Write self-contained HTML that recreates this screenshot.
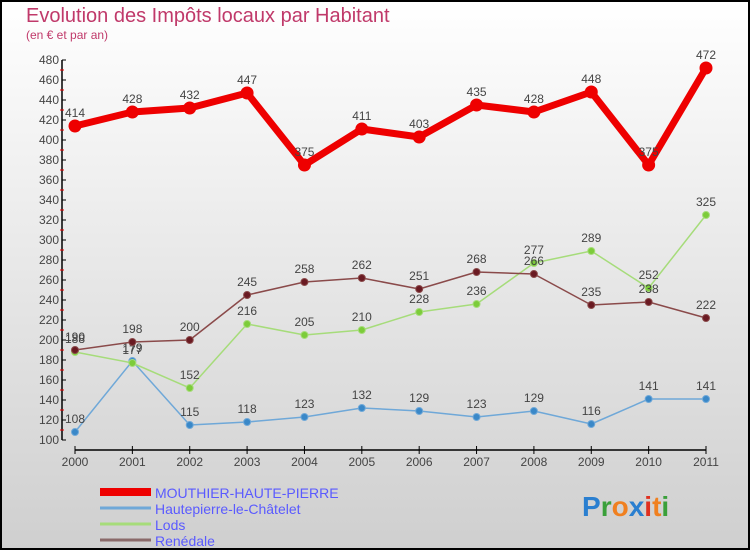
<!DOCTYPE html>
<html><head><meta charset="utf-8"><style>
body{margin:0}
#c{width:750px;height:550px;position:relative;font-family:"Liberation Sans",sans-serif;}
svg text{font-family:"Liberation Sans",sans-serif;}
</style></head><body>
<div id="c">
<svg id="s" width="750" height="550" xmlns="http://www.w3.org/2000/svg">
<defs><linearGradient id="bg" x1="0" y1="0" x2="0" y2="1"><stop offset="0" stop-color="#ffffff"/><stop offset="1" stop-color="#cfcfcf"/></linearGradient></defs>
<rect x="1" y="1" width="748" height="548" fill="url(#bg)" stroke="#000" stroke-width="2"/>
<text x="26" y="22" font-size="20" fill="#c0396a">Evolution des Impôts locaux par Habitant</text>
<text x="26" y="39" font-size="12" fill="#c0396a">(en € et par an)</text>
<g id="axes"></g><g id="series"></g><g id="legend"></g>
<text x="582" y="516" font-size="28" font-weight="bold"><tspan fill="#2a7fd0">P</tspan><tspan fill="#3aa03a">r</tspan><tspan fill="#f08020">o</tspan><tspan fill="#2a7fd0">x</tspan><tspan fill="#e03020">i</tspan><tspan fill="#f08020">t</tspan><tspan fill="#3aa03a">i</tspan></text>
</svg></div>
<script>
const years=[2000,2001,2002,2003,2004,2005,2006,2007,2008,2009,2010,2011];
const yTicks=[100,120,140,160,180,200,220,240,260,280,300,320,340,360,380,400,420,440,460,480];
const mouthier=[414,428,432,447,375,411,403,435,428,448,375,472];
const hautepierre=[108,179,115,118,123,132,129,123,129,116,141,141];
const lods=[188,177,152,216,205,210,228,236,277,289,252,325];
const renedale=[190,198,200,245,258,262,251,268,266,235,238,222];
const NS="http://www.w3.org/2000/svg";
function X(i){return 75+i*(706-75)/11;}
function Y(v){return 440-(v-100)*380/380;}
function mk(t,a,p){const e=document.createElementNS(NS,t);for(const k in a)e.setAttribute(k,a[k]);p.appendChild(e);return e;}
const ax=document.getElementById('axes');
let l=mk('line',{x1:62,y1:60,x2:62,y2:440,stroke:'#000','stroke-width':1.5},ax);


l=mk('line',{x1:75,y1:450,x2:706,y2:450,stroke:'#000','stroke-width':1.5},ax);


yTicks.forEach(v=>{
 mk('line',{x1:62,y1:Y(v),x2:66,y2:Y(v),stroke:'#000'},ax);
 if(v<480)mk('line',{x1:60,y1:Y(v+10),x2:64,y2:Y(v+10),stroke:'#e00'},ax);
 const t=mk('text',{x:59,y:Y(v)+4,'font-size':12,'text-anchor':'end',fill:'#444'},ax);t.textContent=v;
 
 
});
years.forEach((y,i)=>{
 mk('line',{x1:X(i),y1:446,x2:X(i),y2:454,stroke:'#000'},ax);
 const t=mk('text',{x:X(i),y:466,'font-size':12,'text-anchor':'middle',fill:'#444'},ax);t.textContent=y;
 
 
});
const sg=document.getElementById('series');
function series(vals,color,dot,w,r,name){
 const g=mk('g',{},sg);
 
 
 mk('polyline',{points:vals.map((v,i)=>X(i)+','+Y(v)).join(' '),fill:'none',stroke:color,'stroke-width':w,'stroke-linejoin':'round'},g);
 vals.forEach((v,i)=>{
  const c=mk('circle',{cx:X(i),cy:Y(v),r:r,fill:dot,stroke:color,'stroke-width':1},g);
  
  
  const t=mk('text',{x:X(i),y:Y(v)-9,'font-size':12,'text-anchor':'middle',fill:'#444'},g);t.textContent=v;
  
  
 });
}
series(hautepierre,'#6fa8d8','#3a88c8',1.5,3.5,'hautepierre-series');
series(lods,'#a6dc7a','#7ccc3a',1.5,3.5,'lods-series');
series(renedale,'#8a4a4a','#6a1a22',1.5,3.5,'renedale-series');
series(mouthier,'#ee0000','#ee0000',7,6,'mouthier-series');
const lg=document.getElementById('legend');
const items=[['MOUTHIER-HAUTE-PIERRE','#ee0000',8],['Hautepierre-le-Châtelet','#6fa8d8',3],['Lods','#a6dc7a',3],['Renédale','#8a6a6a',3]];
items.forEach((it,i)=>{
 const y=492+i*16;
 const g=mk('g',{},lg);
 
 
 mk('line',{x1:100,y1:y,x2:151,y2:y,stroke:it[1],'stroke-width':it[2]},g);
 const t=mk('text',{x:155,y:y+6,'font-size':14,fill:'#5a5aff'},g);t.textContent=it[0];
});
</script></body></html>
